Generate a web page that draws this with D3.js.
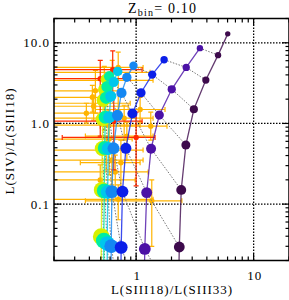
<!DOCTYPE html>
<html>
<head>
<meta charset="UTF-8">
<script src="https://d3js.org/d3.v7.min.js"></script>
<style>
  body { margin: 0; background: #fff; }
  svg { display: block; font-family: "Liberation Serif", "DejaVu Serif", serif; }
  .lbl { font-size: 13px; letter-spacing: 1px; fill: #000; }
</style>
</head>
<body>
<svg id="chart" width="289" height="300"></svg>
<script>
// model tracks, dark -> light; the last row of every track lies below the plot
const trackColors = ["#3d0a4c", "#4b11a6", "#0b1fe8", "#1487f2", "#00c6ec", "#00eea2", "#d6f000"];
const trackX = [
  [6.02, 4.98, 3.92, 3.10, 2.65, 2.42, 2.33, 2.28],
  [3.49, 2.67, 2.01, 1.575, 1.34, 1.23, 1.185, 1.16],
  [1.73, 1.37, 1.10, 0.930, 0.818, 0.765, 0.746, 0.735],
  [0.949, 0.834, 0.750, 0.694, 0.642, 0.622, 0.614, 0.61],
  [0.697, 0.645, 0.608, 0.590, 0.579, 0.573, 0.568, 0.565],
  [0.590, 0.565, 0.554, 0.546, 0.541, 0.536, 0.531, 0.528],
  [0.557, 0.536, 0.525, 0.520, 0.515, 0.510, 0.505, 0.502]
];
const trackY = [
  [12.9, 7.03, 3.45, 1.50, 0.540, 0.150, 0.0294, 0.005],
  [8.58, 4.95, 2.65, 1.27, 0.486, 0.139, 0.0278, 0.005],
  [6.17, 4.03, 2.40, 1.33, 0.491, 0.143, 0.0291, 0.005],
  [5.20, 3.73, 2.39, 1.26, 0.491, 0.143, 0.0301, 0.005],
  [4.42, 3.28, 2.17, 1.196, 0.489, 0.142, 0.0324, 0.005],
  [3.84, 2.85, 2.08, 1.196, 0.496, 0.146, 0.0352, 0.005],
  [3.52, 2.65, 1.94, 1.13, 0.489, 0.150, 0.0395, 0.005]
];

// observed points, orange
const orangeX   = [0.704, 0.626, 0.536, 0.450, 0.424, 0.435, 1.081, 0.791, 1.332, 0.834, 0.536, 0.590, 0.622, 0.742, 0.557, 0.664, 0.495, 1.359, 0.704, 0.579, 0.377];
const orangeXlo = [0.1, 0.1, 0.1, 0.1, 0.1, 0.1, 0.450, 0.1, 0.495, 0.370, 0.1, 0.1, 0.1, 0.335, 0.1, 0.1, 0.1, 0.370, 0.1, 0.1, 0.1];
const orangeXhi = [1.146, 1.314, 1.393, 0.732, 0.602, 0.856, 1.761, 1.393, 1.831, 1.393, 0.890, 0.925, 1.146, 1.081, 1.146, 1.264, 0.981, 2.45, 1.393, 1.081, 0.664];
const orangeY   = [4.95, 4.30, 3.42, 2.54, 2.11, 1.635, 1.489, 1.163, 0.926, 0.697, 1.78, 0.640, 0.352, 0.326, 0.468, 0.2505, 0.1995, 0.110, 0.1146, 0.953, 1.34];
const orangeYlo = [1.46, 2.24, 1.94, 1.34, 1.379, 1.098, 1.038, 0.622, 0.622, 0.352, 0.827, 0.230, 0.173, 0.113, 0.265, 0.113, 0.130, 0.030, 0.064, 0.622, 1.009];
const orangeYhi = [7.65, 6.05, 5.10, 4.55, 2.97, 2.24, 2.11, 1.68, 1.379, 1.038, 2.54, 0.953, 0.540, 0.622, 0.697, 0.406, 0.306, 0.1995, 0.173, 1.46, 1.78];

// observed points, red
const redX   = [0.632, 0.495, 0.645, 1.0];
const redXlo = [0.1, 0.1, 0.1, 0.235];
const redXhi = [1.124, 0.890, 1.124, 1.449];
const redY   = [4.64, 3.59, 1.068, 0.672];
const redYlo = [2.24, 0.697, 0.265, 0.168];
const redYhi = [7.92, 6.05, 2.24, 1.379];

const xTickVals = [1, 10], xTickLabels = ["1", "10"];
const yTickVals = [0.1, 1, 10], yTickLabels = ["0.1", "1.0", "10.0"];

const svg = d3.select("#chart");
const x = d3.scaleLog().domain([0.2, 20]).range([54, 289]);
const y = d3.scaleLog().domain([0.02, 20]).range([260.5, 18.5]);
const [x0, x1] = x.range(), [y0, y1] = y.range();

svg.append("clipPath").attr("id", "plot")
  .append("rect").attr("x", x0).attr("y", y1).attr("width", x1 - x0).attr("height", y0 - y1);

const plot = svg.append("g").attr("clip-path", "url(#plot)");

// grid
plot.selectAll(".gx").data(xTickVals).join("line")
  .attr("x1", d => x(d)).attr("x2", d => x(d)).attr("y1", y1).attr("y2", y0)
  .attr("stroke", "#000").attr("stroke-width", 1.3).attr("stroke-dasharray", "1.5,1.5");
plot.selectAll(".gy").data(yTickVals).join("line")
  .attr("y1", d => y(d)).attr("y2", d => y(d)).attr("x1", x0).attr("x2", x1)
  .attr("stroke", "#000").attr("stroke-width", 1.3).attr("stroke-dasharray", "1.5,1.5");

// error bars
function drawObs(xs, xlo, xhi, ys, ylo, yhi, color) {
  const g = plot.append("g").attr("stroke", color).attr("fill", color).attr("stroke-width", 1.2);
  const idx = d3.range(xs.length);
  const cap = 2.5;
  g.selectAll(".h").data(idx).join("line")
    .attr("x1", i => x(xlo[i])).attr("x2", i => x(xhi[i]))
    .attr("y1", i => y(ys[i])).attr("y2", i => y(ys[i]));
  g.selectAll(".v").data(idx).join("line")
    .attr("x1", i => x(xs[i])).attr("x2", i => x(xs[i]))
    .attr("y1", i => y(ylo[i])).attr("y2", i => y(yhi[i]));
  idx.forEach(i => {
    [xlo[i], xhi[i]].forEach(v => g.append("line")
      .attr("x1", x(v)).attr("x2", x(v)).attr("y1", y(ys[i]) - cap).attr("y2", y(ys[i]) + cap));
    [ylo[i], yhi[i]].forEach(v => g.append("line")
      .attr("y1", y(v)).attr("y2", y(v)).attr("x1", x(xs[i]) - cap).attr("x2", x(xs[i]) + cap));
  });
  g.selectAll("circle").data(idx).join("circle")
    .attr("cx", i => x(xs[i])).attr("cy", i => y(ys[i])).attr("r", 2.7).attr("stroke", "none");
}
drawObs(orangeX, orangeXlo, orangeXhi, orangeY, orangeYlo, orangeYhi, "#ffb400");
drawObs(redX, redXlo, redXhi, redY, redYlo, redYhi, "#ff2a00");

// iso lines: track t, row r joined where t + r is constant
const nT = trackX.length, nR = trackX[0].length;
const line = d3.line().x(d => x(d[0])).y(d => y(d[1]));
for (let k = 0; k < nT + nR - 1; k++) {
  const pts = [];
  for (let t = 0; t < nT; t++) {
    const r = k - t;
    if (r >= 0 && r < nR) pts.push([trackX[t][r], trackY[t][r]]);
  }
  if (pts.length > 1)
    plot.append("path").attr("d", line(pts)).attr("fill", "none")
      .attr("stroke", "#777").attr("stroke-width", 1).attr("stroke-dasharray", "1.5,1.5");
}

// tracks, light first so darker ones sit on top
for (let t = nT - 1; t >= 0; t--) {
  const pts = trackX[t].map((v, r) => [v, trackY[t][r]]);
  plot.append("path").attr("d", line(pts)).attr("fill", "none")
    .attr("stroke", trackColors[t]).attr("stroke-width", 1.3).attr("stroke-opacity", 0.8);
}
for (let t = nT - 1; t >= 0; t--) {
  const pts = trackX[t].map((v, r) => [v, trackY[t][r], r]);
  plot.append("g").selectAll("circle").data(pts).join("circle")
    .attr("cx", d => x(d[0])).attr("cy", d => y(d[1]))
    .attr("r", d => 2.7 + 0.5 * t + 0.45 * d[2])
    .attr("fill", trackColors[t]);
}

// frame and ticks
svg.append("rect").attr("x", x0).attr("y", y1).attr("width", x1 - x0).attr("height", y0 - y1)
  .attr("fill", "none").attr("stroke", "#000").attr("stroke-width", 1.5);

const isMajor = v => Math.abs(Math.log10(v) - Math.round(Math.log10(v))) < 1e-6;
const ax = svg.append("g").attr("stroke", "#000").attr("stroke-width", 1.2);
x.ticks().forEach(v => {
  const L = isMajor(v) ? 7 : 4;
  ax.append("line").attr("x1", x(v)).attr("x2", x(v)).attr("y1", y0).attr("y2", y0 - L);
  ax.append("line").attr("x1", x(v)).attr("x2", x(v)).attr("y1", y1).attr("y2", y1 + L);
});
y.ticks().forEach(v => {
  const L = isMajor(v) ? 7 : 3.5;
  ax.append("line").attr("y1", y(v)).attr("y2", y(v)).attr("x1", x0).attr("x2", x0 + L);
  ax.append("line").attr("y1", y(v)).attr("y2", y(v)).attr("x1", x1).attr("x2", x1 - L);
});

svg.selectAll(".xt").data(xTickVals).join("text").attr("class", "lbl")
  .attr("x", d => x(d) + 1).attr("y", 280).attr("text-anchor", "middle")
  .text((d, i) => xTickLabels[i]);
svg.selectAll(".yt").data(yTickVals).join("text").attr("class", "lbl")
  .attr("x", 50).attr("y", d => y(d) + 4.5).attr("text-anchor", "end")
  .text((d, i) => yTickLabels[i]);

svg.append("text").attr("class", "lbl").attr("x", 172).attr("y", 294)
  .attr("text-anchor", "middle").text("L(SIII18)/L(SIII33)");
svg.append("text").attr("class", "lbl")
  .attr("transform", "translate(14,141) rotate(-90)").attr("text-anchor", "middle")
  .text("L(SIV)/L(SIII18)");

const title = svg.append("text").attr("x", 128).attr("y", 13).style("font-size", "14px").style("letter-spacing", "1.2px");
title.append("tspan").text("Z");
title.append("tspan").attr("dy", 3).style("font-size", "10px").text("bin");
title.append("tspan").attr("dy", -3).text("=  0.10");
</script>
</body>
</html>
